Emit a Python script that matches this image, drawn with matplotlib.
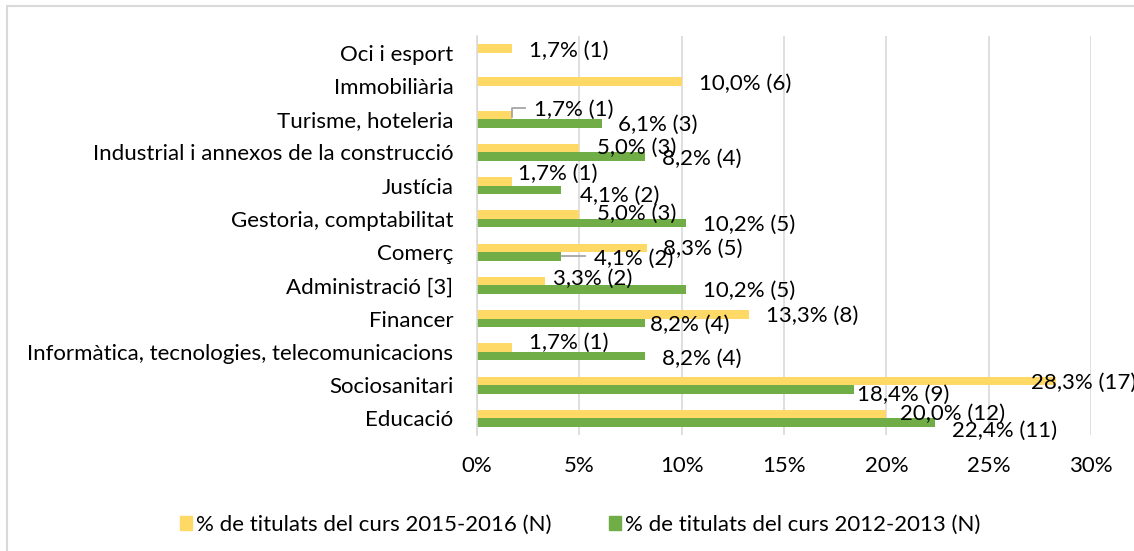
import numpy as np
import matplotlib.pyplot as plt
from matplotlib.patches import Rectangle

# Dades (de dalt a baix, com al gràfic)
categories = ["Oci i esport", "Immobiliària", "Turisme, hoteleria",
              "Industrial i annexos de la construcció", "Justícia",
              "Gestoria, comptabilitat", "Comerç", "Administració [3]",
              "Financer", "Informàtica, tecnologies, telecomunicacions",
              "Sociosanitari", "Educació"]
pct_2015 = [1.7, 10.0, 1.7, 5.0, 1.7, 5.0, 8.3, 3.3, 13.3, 1.7, 28.3, 20.0]
n_2015 = [1, 6, 1, 3, 1, 3, 5, 2, 8, 1, 17, 12]
pct_2012 = [None, None, 6.1, 8.2, 4.1, 10.2, 4.1, 10.2, 8.2, 8.2, 18.4, 22.4]
n_2012 = [None, None, 3, 4, 2, 5, 2, 5, 4, 4, 9, 11]
series_names = ["% de titulats del curs 2015-2016 (N)",
                "% de titulats del curs 2012-2013 (N)"]
x_ticks = [0, 5, 10, 15, 20, 25, 30]

# posicions manuals de les etiquetes (px: dx dreta, dy avall)
off_2015 = [(17, 2), (17, 2), (22, -5), (18, 0), (6, -8), (18, -1), (16, 1),
            (8, -2), (17, 1), (17, -5), (-25, 2), (14, 0)]
off_2012 = [None, None, (16, 1.5), (17, 2), (19, 5.5), (17, 2), (33, 2),
            (17, 1.5), (5, 1.5), (17, 3), (3, 5), (17, 8)]

YELLOW = "#FFD966"
GREEN = "#70AD47"
GRID = "#D9D9D9"
FONT = "Lato"
FS = 16

W, H = 1134, 551
fig = plt.figure(figsize=(W / 100, H / 100), dpi=100)
ax = fig.add_axes([477 / W, 1 - 435 / H, (1091 - 477) / W, (435 - 36) / H])

n = len(categories)
ypos = np.arange(n)[::-1]
h = 0.256

for k in range(n):
    ax.barh(ypos[k] + h / 2, pct_2015[k], height=h, color=YELLOW, zorder=2)
    if pct_2012[k] is not None:
        ax.barh(ypos[k] - h / 2, pct_2012[k], height=h, color=GREEN, zorder=2)

ax.set_xlim(0, 30)
ax.set_ylim(-0.5, n - 0.5)
ax.set_xticks(x_ticks)
ax.set_xticklabels([f"{t}%" for t in x_ticks], fontsize=FS, family=FONT)
ax.set_yticks(ypos)
ax.set_yticklabels(categories, fontsize=FS, family=FONT)
ax.tick_params(axis="both", length=0)
ax.tick_params(axis="y", pad=17)
ax.tick_params(axis="x", pad=15)
ax.grid(axis="x", color=GRID, lw=1.2, zorder=0)
for s in ["top", "right", "bottom"]:
    ax.spines[s].set_visible(False)
ax.spines["left"].set_color(GRID)
ax.spines["left"].set_linewidth(1.2)


def fmt(v, c):
    return f"{v:.1f}".replace(".", ",") + f"% ({c})"


def label(x, y, txt, off):
    ax.annotate(txt, xy=(x, y), xytext=(off[0], -off[1]),
                textcoords="offset pixels", ha="left", va="center",
                fontsize=FS, family=FONT, annotation_clip=False, zorder=4)


for k in range(n):
    label(pct_2015[k], ypos[k] + h / 2, fmt(pct_2015[k], n_2015[k]), off_2015[k])
    if pct_2012[k] is not None:
        label(pct_2012[k], ypos[k] - h / 2, fmt(pct_2012[k], n_2012[k]), off_2012[k])

# línies guia (Turisme groc, Comerç verd)
fig.canvas.draw()
def leader(x, y, pts):
    bx, by = ax.transData.transform((x, y))
    xs = [bx + p[0] for p in pts]
    ys = [by - p[1] for p in pts]
    fig.add_artist(plt.Line2D(xs, ys, transform=None, color="#A6A6A6", lw=1.3))

leader(pct_2015[2], ypos[2] + h / 2, [(0, 2), (0, -7), (13, -7)])
leader(pct_2012[6], ypos[6] - h / 2, [(1, 0), (24, 0)])

# llegenda
handles = [Rectangle((0, 0), 1, 1, color=YELLOW), Rectangle((0, 0), 1, 1, color=GREEN)]
fig.legend(handles, series_names, loc="center", bbox_to_anchor=(580 / W, 1 - 525 / H),
           ncol=2, frameon=False, prop={"family": FONT, "size": FS},
           handlelength=0.56, handleheight=0.56, handletextpad=0.15,
           columnspacing=2.6)

# marc del gràfic
fig.add_artist(Rectangle((7 / W, -0.1), 1.2, 1 - 6 / H + 0.1, transform=fig.transFigure,
                         fill=False, edgecolor=GRID, lw=1.5))

fig.savefig("out.png", dpi=100)
